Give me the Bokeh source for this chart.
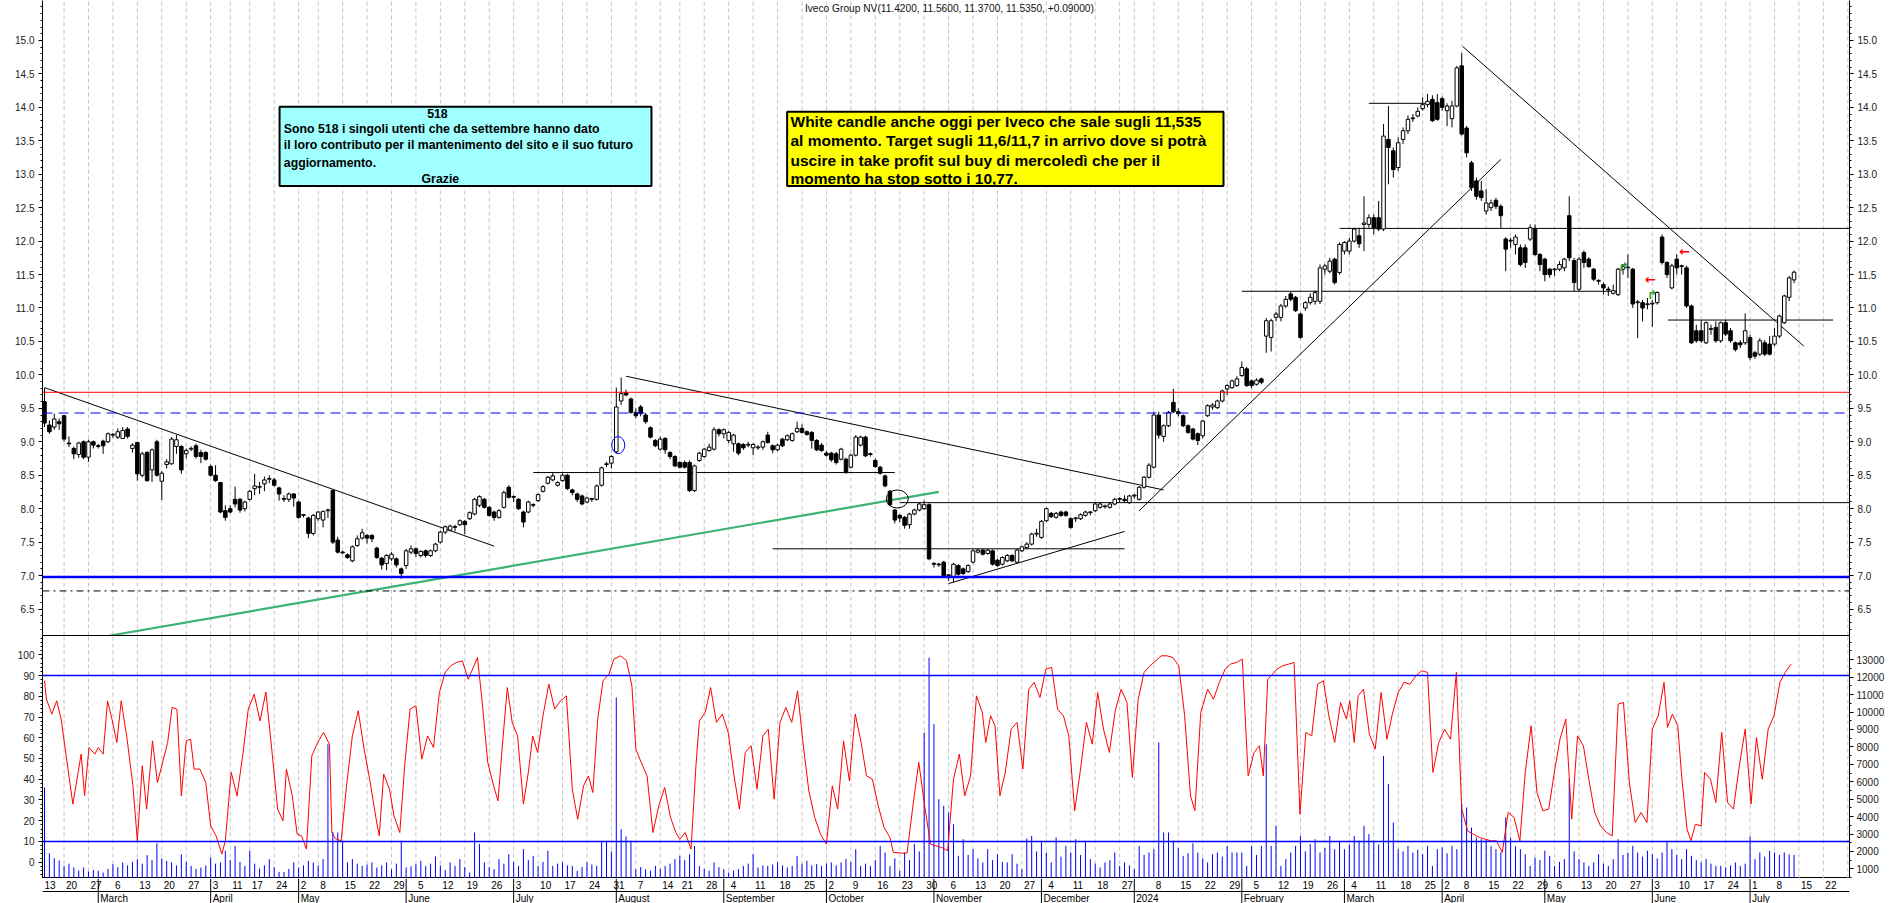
import pandas as pd
from bokeh.plotting import figure
from bokeh.layouts import column
from bokeh.models import Range1d, LinearAxis, FixedTicker, Span, Label, ColumnDataSource, PrintfTickFormatter
from bokeh.embed import file_html
from bokeh.resources import INLINE
from bokeh.core.properties import value

FONT = "Liberation Sans"
TITLE = "Iveco Group NV(11.4200, 11.5600, 11.3700, 11.5350, +0.09000)"

OPEN = [9.60,9.25,9.22,9.30,9.39,8.98,8.90,8.81,9.00,8.77,
9.00,8.94,9.01,9.00,9.11,9.07,9.05,9.19,8.90,8.99,
8.50,8.84,8.58,9.00,8.41,8.66,8.67,8.93,8.93,8.82,
8.89,8.94,8.84,8.84,8.63,8.50,8.39,7.97,8.00,8.14,
8.14,8.00,8.14,8.30,8.32,8.37,8.44,8.43,8.31,8.15,
8.14,8.22,8.10,7.90,7.86,7.63,7.85,7.83,7.97,8.27,
7.53,7.35,7.31,7.22,7.45,7.56,7.60,7.60,7.41,7.26,
7.18,7.25,7.25,7.10,7.15,7.35,7.40,7.30,7.37,7.30,
7.37,7.50,7.65,7.68,7.72,7.76,7.81,7.85,7.92,8.05,
8.14,8.02,7.95,7.87,8.02,8.32,8.17,8.14,7.95,7.95,
8.05,8.12,8.26,8.38,8.43,8.35,8.42,8.50,8.28,8.22,
8.19,8.10,8.14,8.14,8.35,8.66,8.68,8.85,9.61,9.73,
9.64,9.44,9.52,9.40,9.21,9.02,8.89,9.05,8.84,8.78,
8.69,8.69,8.69,8.27,8.72,8.78,8.87,8.89,9.18,9.12,
9.02,8.97,8.97,8.96,8.95,8.91,8.91,8.92,9.10,8.94,
8.88,9.04,9.03,9.02,9.15,9.20,9.15,9.14,9.02,8.95,
8.83,8.83,8.82,8.74,8.74,8.62,8.80,8.95,9.07,8.82,
8.72,8.62,8.49,8.26,7.98,7.90,7.87,7.76,7.92,7.98,
8.00,8.06,7.18,7.17,7.20,7.00,6.98,7.15,7.10,7.06,
7.20,7.35,7.38,7.33,7.37,7.23,7.17,7.22,7.30,7.20,
7.37,7.42,7.47,7.62,7.57,7.82,7.93,7.87,7.95,7.95,
7.85,7.85,7.85,7.90,7.94,7.97,8.02,8.03,8.02,8.07,
8.14,8.14,8.09,8.19,8.14,8.32,8.47,8.62,9.40,9.08,
9.24,9.59,9.45,9.39,9.24,9.19,9.12,9.09,9.39,9.52,
9.51,9.61,9.79,9.81,9.84,9.99,10.09,9.91,9.86,9.94,
10.58,10.56,10.86,10.86,11.03,11.21,11.16,10.91,11.00,11.08,
11.10,11.10,11.58,11.55,11.73,11.53,11.85,11.85,12.00,12.08,
12.25,12.25,12.35,12.35,12.18,13.52,13.35,13.10,13.52,13.65,
13.83,13.87,13.98,14.04,14.12,14.07,14.13,13.95,13.83,14.02,
14.62,13.69,13.17,12.90,12.75,12.45,12.50,12.61,12.52,12.03,
12.00,11.95,11.90,11.90,12.03,12.19,11.80,11.73,11.58,11.57,
11.58,11.60,12.38,11.71,11.28,11.83,11.73,11.58,11.40,11.35,
11.28,11.22,11.20,11.58,11.60,11.58,11.08,11.08,11.05,11.06,
11.08,12.06,11.68,11.30,11.73,11.62,11.60,11.03,10.66,10.66,
10.48,10.68,10.71,10.51,10.78,10.66,10.48,10.48,10.48,10.56,
10.33,10.31,10.48,10.46,10.46,10.58,10.78,11.16,11.42]

HIGH = [9.80,9.32,9.42,9.35,9.40,9.08,8.93,9.00,9.02,9.03,
9.02,8.97,9.03,9.14,9.13,9.20,9.22,9.22,8.98,9.00,
8.85,8.86,8.90,9.03,8.56,8.74,9.07,9.10,8.95,8.90,
8.93,8.97,8.88,8.86,8.66,8.65,8.40,8.05,8.05,8.33,
8.16,8.12,8.28,8.52,8.40,8.48,8.50,8.46,8.33,8.20,
8.24,8.23,8.12,7.92,7.88,7.92,7.96,7.97,8.00,8.28,
7.58,7.37,7.33,7.45,7.60,7.70,7.62,7.62,7.43,7.28,
7.32,7.35,7.27,7.12,7.40,7.45,7.42,7.38,7.39,7.39,
7.49,7.67,7.75,7.76,7.76,7.84,7.83,7.96,8.16,8.20,
8.16,8.04,7.97,7.99,8.27,8.35,8.20,8.16,7.97,8.12,
8.08,8.23,8.35,8.49,8.54,8.41,8.53,8.52,8.30,8.24,
8.21,8.18,8.16,8.36,8.63,8.70,8.80,9.81,9.96,9.78,
9.66,9.50,9.55,9.43,9.23,9.04,9.08,9.07,8.86,8.80,
8.71,8.72,8.72,8.66,8.85,8.91,8.97,9.22,9.20,9.20,
9.16,9.12,8.99,8.98,9.00,8.98,8.95,9.02,9.15,8.96,
8.97,9.06,9.11,9.14,9.30,9.26,9.17,9.16,9.04,8.98,
8.86,8.85,8.85,8.91,8.76,8.82,9.10,9.09,9.09,8.84,
8.75,8.64,8.51,8.28,8.00,7.92,7.89,7.94,8.00,8.09,
8.12,8.08,7.20,7.19,7.22,7.02,7.19,7.17,7.12,7.17,
7.39,7.40,7.40,7.40,7.39,7.25,7.29,7.32,7.32,7.40,
7.45,7.50,7.64,7.70,7.83,8.02,7.95,7.95,7.97,7.97,
7.87,7.88,7.93,7.97,7.96,8.10,8.09,8.06,8.09,8.16,
8.17,8.20,8.21,8.22,8.34,8.49,8.68,9.45,9.45,9.26,
9.46,9.79,9.50,9.41,9.26,9.21,9.14,9.33,9.56,9.58,
9.63,9.78,9.86,9.93,9.98,10.20,10.12,9.93,9.95,9.96,
10.85,10.84,10.94,11.06,11.18,11.24,11.18,10.93,11.10,11.22,
11.26,11.65,11.66,11.75,11.75,11.98,12.00,12.05,12.20,12.20,
12.67,12.40,12.40,12.60,13.75,14.02,13.40,13.55,13.70,13.88,
13.90,14.00,14.15,14.20,14.18,14.20,14.16,14.06,14.10,14.62,
14.81,13.72,13.20,12.95,12.90,12.78,12.62,12.65,12.55,12.06,
12.05,12.10,11.95,11.95,12.25,12.25,11.82,11.75,11.60,11.60,
11.70,11.75,12.67,11.75,11.76,11.86,11.76,11.60,11.43,11.38,
11.32,11.35,11.60,11.65,11.80,11.60,11.12,11.12,11.15,11.12,
11.25,12.10,11.70,11.66,11.80,11.65,11.63,11.05,10.75,10.82,
10.80,10.75,10.80,10.80,10.82,10.70,10.50,10.52,10.92,10.60,
10.36,10.55,10.52,10.58,10.70,10.90,11.20,11.48,11.56]

LOW = [9.22,9.12,9.18,9.18,9.00,8.92,8.74,8.76,8.74,8.70,
8.90,8.90,8.82,8.98,9.06,9.04,9.04,9.05,8.84,8.42,
8.47,8.40,8.40,8.48,8.13,8.60,8.66,8.82,8.52,8.75,
8.86,8.75,8.68,8.72,8.48,8.40,7.93,7.82,7.93,8.02,
7.94,7.96,8.12,8.20,8.22,8.26,8.38,8.33,8.12,8.10,
8.10,8.03,7.85,7.87,7.56,7.60,7.82,7.72,7.86,7.47,
7.33,7.32,7.25,7.20,7.43,7.54,7.48,7.50,7.25,7.09,
7.08,7.22,7.12,6.95,7.10,7.32,7.28,7.27,7.27,7.28,
7.35,7.48,7.62,7.66,7.66,7.74,7.62,7.83,7.90,8.02,
8.00,7.88,7.82,7.85,8.00,8.15,8.10,7.98,7.72,7.93,
8.02,8.10,8.24,8.36,8.41,8.33,8.40,8.28,8.20,8.10,
8.05,8.08,8.10,8.12,8.33,8.62,8.60,8.83,9.55,9.68,
9.42,9.35,9.38,9.27,9.05,8.92,8.87,8.82,8.74,8.62,
8.60,8.60,8.25,8.25,8.70,8.76,8.85,8.87,9.08,9.05,
8.98,8.85,8.80,8.88,8.92,8.80,8.88,8.88,8.97,8.83,
8.86,8.92,9.01,9.00,9.13,9.12,9.09,8.90,8.86,8.85,
8.78,8.70,8.66,8.72,8.52,8.60,8.78,8.93,8.77,8.78,
8.61,8.51,8.32,8.04,7.78,7.80,7.70,7.70,7.90,7.96,
7.98,7.23,7.12,7.13,6.98,6.92,6.90,7.00,7.01,7.04,
7.18,7.33,7.30,7.31,7.15,7.13,7.15,7.20,7.20,7.18,
7.35,7.40,7.45,7.58,7.55,7.80,7.86,7.85,7.88,7.88,
7.70,7.80,7.83,7.88,7.90,7.95,8.00,8.00,8.00,8.05,
8.10,8.10,8.07,8.15,8.12,8.30,8.45,8.60,9.05,9.00,
9.22,9.43,9.38,9.22,9.12,9.02,8.95,9.05,9.37,9.48,
9.49,9.59,9.70,9.79,9.82,9.97,9.82,9.80,9.84,9.86,
10.33,10.35,10.80,10.80,11.00,11.10,10.94,10.54,10.96,11.05,
11.05,11.06,11.50,11.52,11.35,11.50,11.80,11.80,11.98,11.90,
11.85,12.20,12.10,12.15,12.15,12.85,12.95,13.05,13.45,13.60,
13.78,13.85,13.95,14.00,13.78,13.80,13.95,13.72,13.70,14.00,
13.58,13.25,12.75,12.62,12.60,12.40,12.45,12.48,12.20,11.55,
11.90,11.80,11.62,11.60,12.00,11.78,11.55,11.40,11.45,11.48,
11.55,11.55,11.70,11.25,11.25,11.60,11.60,11.40,11.35,11.20,
11.18,11.20,11.18,11.50,11.45,11.00,10.55,10.80,10.98,10.72,
11.05,11.65,11.45,11.28,11.50,11.50,11.00,10.46,10.48,10.48,
10.46,10.60,10.48,10.48,10.58,10.48,10.35,10.40,10.45,10.22,
10.24,10.28,10.28,10.29,10.43,10.55,10.76,11.10,11.37]

CLOSE = [9.28,9.15,9.34,9.27,9.04,8.97,8.82,8.98,8.77,9.00,
8.95,8.93,8.94,9.12,9.10,9.15,9.17,9.08,8.95,8.52,
8.82,8.42,8.88,8.50,8.53,8.70,9.04,9.03,8.58,8.87,
8.90,8.78,8.78,8.74,8.50,8.42,7.95,7.87,7.95,8.07,
7.98,8.10,8.26,8.34,8.33,8.43,8.44,8.35,8.22,8.14,
8.22,8.16,7.87,7.90,7.63,7.90,7.95,7.96,7.98,7.50,
7.35,7.34,7.27,7.43,7.55,7.64,7.56,7.55,7.27,7.16,
7.30,7.32,7.16,7.03,7.37,7.40,7.33,7.36,7.30,7.37,
7.47,7.65,7.73,7.74,7.72,7.82,7.76,7.94,8.14,8.18,
8.02,7.90,7.87,7.97,8.24,8.17,8.17,8.00,7.80,8.10,
8.05,8.21,8.33,8.47,8.49,8.39,8.50,8.30,8.24,8.14,
8.07,8.16,8.14,8.34,8.61,8.66,8.78,9.52,9.72,9.70,
9.44,9.39,9.42,9.30,9.07,8.94,9.04,8.88,8.78,8.64,
8.62,8.62,8.27,8.64,8.83,8.89,8.92,9.18,9.12,9.18,
9.14,9.10,8.83,8.91,8.95,8.96,8.91,9.00,8.99,8.88,
8.95,8.94,9.09,9.12,9.20,9.14,9.11,9.02,8.88,8.87,
8.80,8.73,8.69,8.89,8.54,8.80,9.07,9.07,8.79,8.81,
8.63,8.53,8.34,8.06,7.83,7.86,7.75,7.92,7.98,8.07,
8.06,7.25,7.17,7.16,7.00,7.00,7.17,7.02,7.03,7.15,
7.37,7.38,7.32,7.38,7.17,7.15,7.27,7.30,7.22,7.38,
7.43,7.47,7.62,7.62,7.81,8.00,7.88,7.93,7.90,7.90,
7.72,7.85,7.91,7.95,7.94,8.07,8.07,8.03,8.07,8.14,
8.14,8.12,8.19,8.19,8.32,8.47,8.65,9.40,9.10,9.24,
9.44,9.45,9.42,9.24,9.14,9.04,9.02,9.31,9.54,9.55,
9.61,9.76,9.84,9.91,9.94,10.11,9.84,9.84,9.92,9.89,
10.81,10.81,10.91,11.03,11.13,11.13,10.96,10.56,11.08,11.16,
11.23,11.60,11.63,11.70,11.38,11.95,11.98,12.00,12.18,11.96,
12.27,12.35,12.20,12.18,13.57,13.40,13.07,13.47,13.65,13.82,
13.84,13.94,14.04,14.09,13.80,13.82,14.00,14.02,14.02,14.59,
13.60,13.32,12.80,12.67,12.65,12.57,12.57,12.52,12.38,11.88,
12.00,12.06,11.65,11.68,12.20,11.80,11.65,11.50,11.50,11.58,
11.65,11.73,11.75,11.38,11.73,11.68,11.62,11.43,11.40,11.30,
11.27,11.26,11.58,11.62,11.60,11.06,11.08,11.00,11.05,11.06,
11.23,11.68,11.50,11.63,11.60,11.62,11.03,10.48,10.51,10.51,
10.78,10.68,10.51,10.78,10.61,10.51,10.38,10.45,10.66,10.26,
10.28,10.51,10.31,10.31,10.58,10.88,11.18,11.45,11.535]

VOLUME = [5670,1900,1610,1480,1170,1300,1080,900,1080,850,
940,900,790,1000,1270,1100,1370,1200,1410,1560,
1300,1790,1500,2470,1600,1460,1370,1200,1840,1400,
1170,1000,1080,1200,1650,1300,1370,2040,1500,2320,
1400,1170,2040,1300,1020,1200,1560,1100,830,830,
1000,1370,1080,1200,1460,1370,1200,1560,8150,3120,
3090,2550,1370,1560,1300,1170,1250,1370,1080,1200,
1370,980,1300,2610,1080,1150,1270,1460,1170,1300,
1710,1200,940,1370,1170,1560,1100,790,3090,2420,
1370,1100,980,1560,1300,1840,1400,1170,2130,1500,
1750,1170,1400,2040,1170,1300,1370,1200,1170,890,
1100,1370,1250,1170,2610,2610,2000,10830,3280,2860,
2610,980,1100,980,890,1170,1000,1170,1300,1560,
1750,1500,1840,2320,1170,1000,890,1370,1100,980,
790,900,980,1170,1300,1840,1080,1200,1170,1250,
1370,1200,1080,1170,1750,1300,1460,1200,1270,1170,
1300,1370,1200,1370,1560,1400,2130,1170,1300,1170,
1500,2320,1940,1170,1600,890,1940,1500,2420,2000,
8820,13120,9300,5000,4620,4230,3560,1750,2700,1800,
2130,1600,1370,2130,1500,1840,1400,1370,1840,1300,
980,2740,2890,2000,2610,1940,1370,2800,1700,2320,
1940,2700,1800,2610,1560,1300,1080,1370,1500,1940,
1170,1370,1200,980,2320,1800,1940,2130,8250,3090,
3090,2610,2200,1750,1900,2470,1940,1600,1370,1840,
1940,1700,2320,1940,1940,1940,1170,2320,1800,2320,
8150,2320,3470,1170,1560,1940,2320,2890,2000,2420,
2700,1940,2200,2890,2130,2610,2130,2400,2890,2610,
3470,2990,2610,2400,7480,5860,3660,2130,2000,2320,
1940,2100,1840,2320,1170,2130,2230,1900,2320,2130,
4710,4520,3370,2800,2700,2700,2300,2130,1940,3950,
2800,2300,2130,1840,1170,1650,1500,2040,1750,1170,
1400,1560,6150,2000,1560,1370,1170,1370,1840,1300,
1170,1560,2700,1800,1940,2320,1940,1700,2040,1840,
1600,1940,2610,2130,1800,1560,2130,1750,1500,1370,
1560,1300,1170,1170,1080,1200,1370,1170,1300,2860,
1560,1940,1700,2040,1940,1800,1940,1840,1800]

# oscillator (0-100): trading-day position, value
OSC_DAY = [0,0.4,1.5,2.5,3.4,5.8,7.5,8.2,9.1,10.3,11.0,12.0,12.9,13.8,14.8,15.7,16.9,18.1,19.0,20.0,
20.9,22.1,23.1,24.0,25.2,26.1,27.1,28.0,29.0,29.9,30.6,31.8,33.0,34.0,35.1,36.3,37.0,38.2,39.4,40.6,
41.7,42.9,44.1,45.3,46.5,47.7,48.8,49.5,50.7,51.7,52.6,53.6,54.7,55.9,57.1,58.3,58.8,59.5,60.7,61.8,
63.0,64.2,65.4,66.6,67.8,68.5,69.4,70.6,71.5,72.7,73.7,74.8,76.0,77.2,78.4,79.6,80.8,82.0,83.1,84.3,
85.5,86.7,87.9,88.6,89.5,90.7,91.9,92.8,93.8,94.7,95.7,96.8,98.0,99.0,99.9,100.9,102.0,103.2,104.4,105.6,
106.8,108.0,109.1,110.3,111.3,112.2,113.2,114.3,115.5,116.5,117.9,119.1,120.2,121.0,122.1,123.3,124.5,125.7,126.9,128.1,
129.2,130.0,131.1,132.3,133.3,134.0,135.2,136.3,137.5,138.7,139.9,141.1,142.2,143.4,144.6,145.8,147.0,148.1,149.3,150.5,
151.7,152.9,154.1,155.2,156.4,157.6,158.8,160.0,161.2,162.3,163.5,164.7,165.9,167.1,168.2,169.4,170.6,171.8,173.0,173.7,
175.3,176.5,177.7,178.9,180.1,181.3,182.4,183.6,184.8,186.0,187.2,188.3,189.5,190.7,191.9,192.6,193.6,194.5,195.5,196.6,
197.8,199.0,200.2,201.4,202.5,203.7,204.9,206.1,207.3,208.5,209.6,210.8,212.0,213.2,214.4,215.5,216.7,217.9,219.1,220.3,
221.5,222.6,223.8,225.0,226.2,227.4,228.5,229.7,230.9,232.1,233.3,234.5,235.4,236.6,238.0,239.2,240.4,241.6,242.7,243.9,
245.1,246.3,247.5,248.6,249.4,250.3,251.3,252.2,253.4,254.6,255.7,256.9,258.1,259.3,260.5,261.7,262.8,264.0,265.2,266.4,
267.1,268.0,268.8,269.9,271.1,272.3,273.5,274.7,275.8,277.0,278.2,279.4,280.6,281.8,283.0,284.1,285.3,286.5,287.7,288.9,
290.0,291.2,292.4,293.6,294.8,296.0,297.1,298.3,299.5,300.7,301.9,303.0,304.2,305.4,306.6,307.8,309.0,310.1,311.3,312.5,
313.7,314.9,316.0,317.2,318.4,319.6,320.8,322.0,323.1,324.3,325.5,326.7,327.9,329.0,330.2,331.4,332.1,333.1,334.2,335.0,
336.1,336.9,337.8,339.0,339.7,340.9,342.0,343.2,344.4,345.6,346.8,348.0,349.2,350.3,351.5,352.7,353.9,355.1,356.2,357.4]
OSC_VAL = [87.5,78.6,71.4,77.8,69.0,28.0,52.1,32.0,55.3,52.1,55.3,52.1,77.8,69.0,57.7,77.8,59.3,36.8,10.3,46.5,
25.6,58.5,38.4,46.5,57.7,74.6,73.8,32.0,58.5,59.3,44.9,44.9,38.4,17.5,12.7,3.9,10.3,43.3,32.0,52.1,
73.8,81.0,68.1,82.1,54.5,25.6,19.9,44.9,32.0,13.5,12.7,6.3,51.3,57.7,62.6,56.9,14.3,11.4,10.3,36.8,
60.9,73.0,54.5,39.2,21.6,12.7,42.5,35.2,22.4,14.3,46.5,73.8,75.4,49.7,60.9,55.3,81.8,91.5,94.7,96.3,
97.1,88.2,94.7,98.7,78.6,48.1,36.8,29.6,59.3,84.2,67.4,60.9,28.0,43.3,60.9,52.9,70.6,85.8,73.8,77.8,
80.2,35.2,20.7,36.8,41.6,33.6,69.0,87.5,90.7,97.9,99.5,97.1,85.0,54.5,48.1,41.6,14.3,27.2,36.0,21.6,
14.3,11.1,14.3,6.3,46.5,68.1,72.2,84.2,67.4,71.4,62.6,41.6,25.6,52.9,56.1,35.2,60.9,64.1,30.4,67.4,
74.6,67.4,82.6,57.7,34.4,21.6,13.5,8.7,36.8,25.6,58.5,39.2,71.4,57.7,41.6,40.0,27.2,16.7,11.9,4.7,
4.4,4.4,27.2,48.1,27.2,8.7,7.9,7.1,5.5,40.0,52.1,32.0,41.6,80.2,72.2,57.7,70.6,65.8,32.0,43.3,
64.1,67.4,44.9,83.4,86.7,79.4,93.1,93.9,73.8,70.6,60.9,24.8,44.9,67.4,56.9,81.8,64.1,52.9,73.0,83.4,
77.0,40.8,78.6,91.5,94.7,97.1,99.5,99.5,98.7,94.7,70.6,32.0,24.8,72.2,83.4,78.6,86.7,93.1,95.5,96.3,
97.9,41.6,52.9,56.1,41.6,88.2,90.7,93.1,94.7,95.5,96.3,23.2,62.6,60.9,85.8,87.5,70.6,57.7,77.0,69.0,
77.8,57.7,80.2,83.4,61.7,54.5,81.8,59.3,71.4,81.8,86.7,85.8,89.8,92.3,91.5,43.3,57.7,64.1,59.3,91.5,
25.6,15.1,13.5,11.9,11.1,10.3,10.3,4.7,24.0,21.6,10.3,43.3,65.8,33.6,24.8,25.6,44.1,59.3,69.0,20.7,
60.9,56.1,40.0,24.0,17.5,14.3,12.7,76.2,77.0,38.4,19.1,24.0,19.1,64.1,70.6,86.7,65.0,71.4,65.8,41.6,
15.9,10.3,18.3,17.5,43.3,40.0,28.8,62.6,28.8,25.6,46.5,64.1,28.0,60.1,40.0,64.1,70.6,86.7,91.5,95.5]

OSC_LEVELS = [90, 10]
PRICE_LEVELS = {"red": 9.74, "blue_dash": 9.43, "blue": 6.98, "dashdot": 6.77}

# trend lines / levels drawn on the price panel (trading-day index, price)
LINE_X0 = [0, 119, 185, 224, 290.2, 100, 149, 175, 245, 265, 271, 332.2]
LINE_Y0 = [9.81, 9.98, 6.88, 7.97, 14.91, 8.54, 7.40, 8.09, 11.25, 12.19, 14.06, 10.82]
LINE_X1 = [92, 229, 221, 298, 360, 174, 221, 372, 322, 372, 284.5, 366]
LINE_Y1 = [7.44, 8.28, 7.66, 13.22, 10.43, 8.54, 7.40, 8.09, 11.25, 12.19, 14.06, 10.82]
GREEN_X = [13.2, 183]
GREEN_Y = [6.10, 8.25]

HOLIDAYS = ["2023-04-07", "2023-04-10", "2023-05-01", "2023-08-15", "2023-12-25",
            "2023-12-26", "2024-01-01", "2024-03-29", "2024-04-01", "2024-05-01"]

CYAN_TEXT = ["518", "Sono 518 i singoli utenti che da settembre hanno dato",
             "il loro contributo per il mantenimento del sito e il suo futuro",
             "aggiornamento.", "Grazie"]
YELLOW_TEXT = ["White candle anche oggi per Iveco che sale sugli 11,535",
               "al momento. Target sugli 11,6/11,7 in arrivo dove si potrà",
               "uscire in take profit sul buy di mercoledì che per il",
               "momento ha stop sotto i 10,77."]

# ---------------------------------------------------------------- layout
W = 1890
BL, BR = 42, 41
FRAME_W = W - BL - BR
XS = -0.41
XE = XS + FRAME_W / 4.887
PY0, PY1 = 6.104, 15.597
OY0, OY1 = -7.86, 109.3
VY0, VY1 = 447.5, 14389

N = len(CLOSE)
IDX = list(range(N))

cal = pd.bdate_range("2023-02-13", "2024-08-02")
cal = cal[~cal.isin(pd.to_datetime(HOLIDAYS))]
week_first, month_first = [], []
pw = pm = None
for i, d in enumerate(cal):
    iso = d.isocalendar()
    wk = (iso[0], iso[1])
    if wk != pw:
        week_first.append(i)
        pw = wk
    mk = (d.year, d.month)
    if mk != pm:
        month_first.append(i)
        pm = mk

grid_x = [i - 1 for i in week_first if XS < i - 1 < XE]
day_x, day_t = [], []
last = -99
for i in week_first:
    t = i - 1
    if t > XE + 2:
        break
    if t - last < 4:
        continue
    day_x.append(max(t, XS))
    day_t.append(str(cal[i].day))
    last = t
mon_x, mon_t = [], []
for i in month_first[1:]:
    t = i - 1
    if t > XE:
        break
    mon_x.append(t)
    mon_t.append(str(cal[i].year) if cal[i].month == 1 else cal[i].strftime("%B"))

x_range = Range1d(XS, XE)


def base_fig(height, y_range):
    f = figure(width=W, height=height, x_range=x_range, y_range=y_range,
               output_backend="svg", toolbar_location=None,
               x_axis_location=None, y_axis_location=None,
               min_border_left=BL, min_border_right=BR,
               min_border_top=0, min_border_bottom=0)
    f.grid.visible = False
    f.background_fill_color = "white"
    f.border_fill_color = "white"
    return f


def style_axis(ax, standoff=3):
    ax.major_label_text_font = FONT
    ax.major_label_text_font_size = "10px"
    ax.major_label_text_color = "#222222"
    ax.major_tick_out = 4
    ax.major_tick_in = 0
    ax.minor_tick_out = 2
    ax.minor_tick_in = 0
    ax.axis_line_color = "black"
    ax.major_tick_line_color = "black"
    ax.minor_tick_line_color = "black"
    ax.major_label_standoff = standoff


GRID_COLOR = "#c4c4c4"

# ---------------------------------------------------------------- price panel
p1 = base_fig(635, Range1d(PY0, PY1))
p1.outline_line_color = None
pt_major = [6.5 + 0.5 * k for k in range(18)]
pt_minor = [round(6.2 + 0.1 * k, 2) for k in range(95)]
for loc in ("left", "right"):
    ax = LinearAxis(ticker=FixedTicker(ticks=pt_major, minor_ticks=pt_minor),
                    formatter=PrintfTickFormatter(format="%.1f"))
    style_axis(ax, standoff=4)
    p1.add_layout(ax, loc)

p1.segment(x0=grid_x, y0=PY0, x1=grid_x, y1=PY1, line_color=GRID_COLOR,
           line_dash="4 3", line_width=1)

p1.add_layout(Span(location=PRICE_LEVELS["red"], dimension="width", line_color="#ff0000", line_width=1))
p1.add_layout(Span(location=PRICE_LEVELS["blue_dash"], dimension="width", line_color="#0000ff",
                   line_width=1, line_dash="10 6"))
p1.add_layout(Span(location=PRICE_LEVELS["blue"], dimension="width", line_color="#0000ff", line_width=2.5))
p1.add_layout(Span(location=PRICE_LEVELS["dashdot"], dimension="width", line_color="black",
                   line_width=1, line_dash="7 4 2 4"))

p1.segment(x0=LINE_X0, y0=LINE_Y0, x1=LINE_X1, y1=LINE_Y1, line_color="black", line_width=1)
p1.line(x=GREEN_X, y=GREEN_Y, line_color="#3cb371", line_width=2.2)

tops = [max(o, c) for o, c in zip(OPEN, CLOSE)]
bots = [min(o, c) for o, c in zip(OPEN, CLOSE)]
tops = [t if t - b >= 0.012 else b + 0.012 for t, b in zip(tops, bots)]
fills = ["black" if c < o else "white" for o, c in zip(OPEN, CLOSE)]
src = ColumnDataSource(dict(x=IDX, h=HIGH, l=LOW, top=tops, bot=bots, fill=fills))
p1.segment(x0="x", y0="h", x1="x", y1="l", source=src, line_color="black", line_width=1)
p1.vbar(x="x", top="top", bottom="bot", width=0.72, fill_color="fill", line_color="black",
        line_width=1, source=src)

p1.ellipse(x=[117.4], y=[8.95], width=13, height=17, width_units="screen", height_units="screen",
           fill_color=None, line_color="#0000ff", line_width=1)
p1.ellipse(x=[174.5], y=[8.145], width=22, height=18, width_units="screen", height_units="screen",
           fill_color=None, line_color="black", line_width=1)

p1.text(x=[323.2, 329.05], y=[11.61, 11.19], text=["↱", "↱"], text_color="#1a9a1a",
        text_font=value("DejaVu Sans"), text_font_size="12px", text_font_style="bold",
        text_align="center", text_baseline="middle")
p1.text(x=[328.6, 335.6], y=[11.43, 11.84], text=["←", "←"], text_color="#ff0000",
        text_font=value("DejaVu Sans"), text_font_size="13px", text_font_style="bold",
        text_align="center", text_baseline="middle")

# text boxes
p1.quad(left=[48.1], right=[124.2], top=[14.009], bottom=[12.824], fill_color="#a0ffff",
        line_color="black", line_width=2)
cy = [13.910, 13.671, 13.432, 13.172, 12.933]
cx = [80.4, 48.97, 48.97, 48.97, 81.0]
ca = ["center", "left", "left", "left", "center"]
for t, xx, yy, al in zip(CYAN_TEXT, cx, cy, ca):
    p1.text(x=[xx], y=[yy], text=[t], text_font=value(FONT), text_font_size="12.3px",
            text_font_style="bold", text_align=al, text_baseline="middle", text_color="black")

p1.quad(left=[151.96], right=[241.25], top=[13.934], bottom=[12.824], fill_color="#ffff00",
        line_color="black", line_width=2)
yy_y = [13.795, 13.506, 13.210, 12.933]
p1.text(x=[152.65] * 4, y=yy_y, text=YELLOW_TEXT, text_font=value(FONT), text_font_size="15.5px",
        text_font_style="bold", text_align="left", text_baseline="middle", text_color="black")

p1.text(x=[155.6], y=[15.47], text=[TITLE], text_font=value(FONT), text_font_size="10.2px",
        text_align="left", text_baseline="middle", text_color="#111111")

# ---------------------------------------------------------------- oscillator / volume panel
p2 = base_fig(243, Range1d(OY0, OY1))
p2.outline_line_color = "black"
p2.extra_y_ranges = {"vol": Range1d(VY0, VY1)}
axl = LinearAxis(ticker=FixedTicker(ticks=list(range(0, 101, 10)), minor_ticks=list(range(-6, 110, 2))))
style_axis(axl, standoff=4)
p2.add_layout(axl, "left")
axr = LinearAxis(y_range_name="vol",
                 ticker=FixedTicker(ticks=list(range(1000, 14000, 1000)),
                                    minor_ticks=list(range(500, 14400, 500))))
style_axis(axr, standoff=3)
p2.add_layout(axr, "right")

p2.segment(x0=grid_x, y0=OY0, x1=grid_x, y1=OY1, line_color=GRID_COLOR, line_dash="4 3", line_width=1)
p2.segment(x0=IDX, y0=[VY0] * N, x1=IDX, y1=VOLUME, y_range_name="vol", line_color="#0000ff",
           line_width=1)
for lv in OSC_LEVELS:
    p2.add_layout(Span(location=lv, dimension="width", line_color="#0000ff", line_width=1.5))
p2.line(x=OSC_DAY, y=OSC_VAL, line_color="#ff0000", line_width=1)
p2.add_layout(Label(x=XE, y=OY0, x_offset=3, y_offset=1, text="x1000", text_font=FONT,
                    text_font_size="7px", text_baseline="bottom", border_line_color="black",
                    background_fill_color="white"))

# ---------------------------------------------------------------- date strip
p3 = base_fig(25, Range1d(0, 25))
p3.outline_line_color = None
p3.add_layout(Span(location=12, dimension="width", line_color="black", line_width=1))
p3.segment(x0=mon_x, y0=0, x1=mon_x, y1=25, line_color="black", line_width=1)
p3.text(x=day_x, y=[18.5] * len(day_x), text=day_t, x_offset=2, text_font=value(FONT),
        text_font_size="10px", text_align="left", text_baseline="middle", text_color="black")
p3.text(x=mon_x, y=[5.5] * len(mon_x), text=mon_t, x_offset=2, text_font=value(FONT),
        text_font_size="10px", text_align="left", text_baseline="middle", text_color="black")

page = column(p1, p2, p3)
open("out.html", "w").write(file_html(page, INLINE))
